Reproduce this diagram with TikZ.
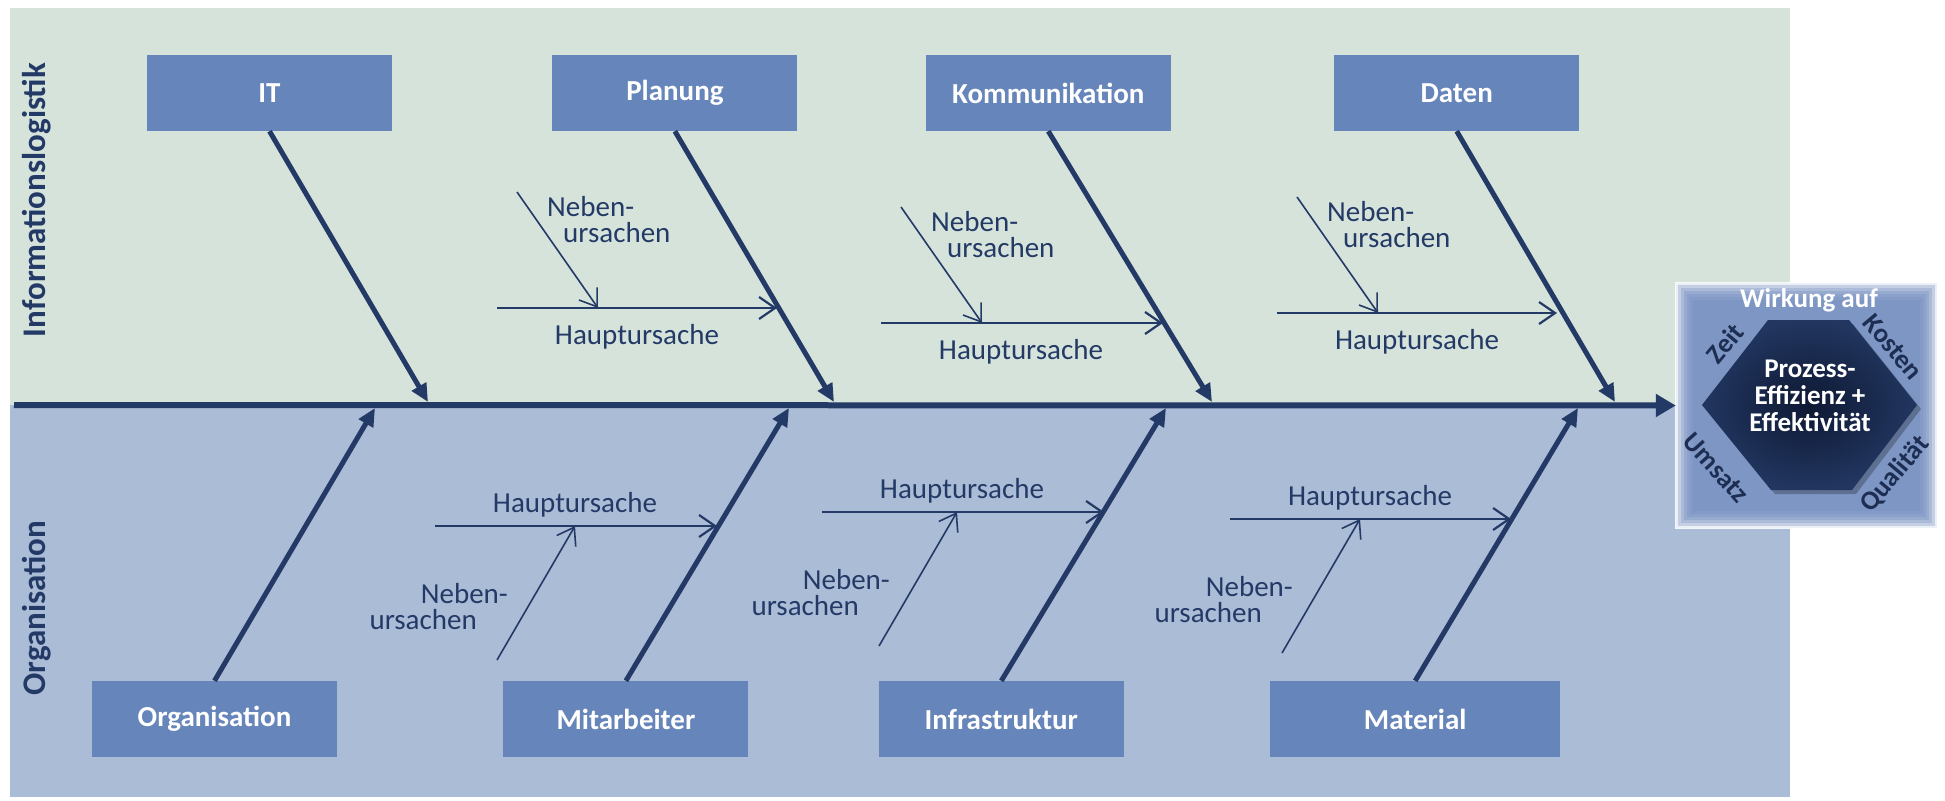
\documentclass[tikz,border=0pt]{standalone}
\usepackage{fontspec}
\setmainfont{Carlito}
\usetikzlibrary{positioning,calc,arrows.meta}

\definecolor{topbg}{HTML}{D5E3DA}
\definecolor{botbg}{HTML}{ABBCD7}
\definecolor{boxfill}{HTML}{6685BA}
\definecolor{navy}{HTML}{243A66}
\definecolor{effbg}{HTML}{7E96C4}
\definecolor{hexin}{HTML}{0E1934}
\definecolor{hexout}{HTML}{223660}

\tikzset{
  cat/.style={fill=boxfill, minimum width=245pt, minimum height=76pt, inner sep=0pt,
    text=white, font=\fontsize{29}{30}\selectfont\bfseries},
  bone/.style={navy, line width=5pt, -{Triangle[length=18pt,width=16pt]}},
  spine/.style={navy, line width=6pt, -{Triangle[length=20pt,width=22pt]}},
  haupt/.style={navy, line width=2.2pt, -{Straight Barb[length=16pt,width=22pt]}},
  neben/.style={navy, line width=1.6pt, -{Straight Barb[length=16pt,width=22pt]}},
  lbl/.style={text=navy, inner sep=0pt, font=\fontsize{29}{26}\selectfont},
  side/.style={text=navy, rotate=90, inner sep=0pt, font=\fontsize{33}{33}\selectfont\bfseries},
  effect/.style={fill=effbg, minimum width=261pt, minimum height=245pt, inner sep=0pt},
  ring/.style={text=navy!80!black, inner sep=0pt, font=\fontsize{27}{27}\selectfont\bfseries},
}

\begin{document}
\begin{tikzpicture}[x=1pt,y=-1pt]
    \useasboundingbox (0,0) rectangle (1945,800);
    \fill[topbg] (10,8) rectangle (1790,405);
    \fill[botbg] (10,405) rectangle (1790,797);

    \node[side] (infolog) at (36.5,200) {Informationslogistik};
    \node[side] (orgside) at (36.5,608) {Organisation};

    % Wirkung
    \node[effect] (eff) at (1806.5,405.5) {};
    \foreach \d/\o in {1/0.85,4/0.55,7/0.35,10/0.2,13/0.1,16/0.05}
        \draw[white, opacity=\o, line width=3pt] ($(eff.south west)+(\d,-\d)$) rectangle ($(eff.north east)+(-\d,\d)$);
    \fill[black, opacity=0.25] (1706,409) -- (1772,324) -- (1853,324) -- (1921,409) -- (1856,494) -- (1775,494) -- cycle;
    \shade[inner color=hexin, outer color=hexout] (1702,405) -- (1768,320) -- (1849,320) -- (1917,405) -- (1852,490) -- (1771,490) -- cycle;
    \node[text=white, align=center, inner sep=0pt, font=\fontsize{27}{27}\selectfont\bfseries] (ziel) at (1810,396) {Prozess-\\Effizienz +\\Effektivität};
    \node[text=white, inner sep=0pt, font=\fontsize{27}{27}\selectfont\bfseries] (wirk) at (1809,300) {Wirkung auf};
    \node[ring, rotate=50] (zeit) at (1725,343) {Zeit};
    \node[ring, rotate=-50] (kosten) at (1893,347) {Kosten};
    \node[ring, rotate=-48] (umsatz) at (1716,468) {Umsatz};
    \node[ring, rotate=50] (qual) at (1895,474) {Qualität};

    % Kategorien
    \node[cat] (it) at (269.5,93) {IT};
    \node[cat, right=160pt of it] (plan) {Planung};
    \node[cat, right=128pt of plan] (komm) {Kommunikation};
    \node[cat, right=163pt of komm] (daten) {Daten};
    \node[cat] (org) at (214.5,719) {Organisation};
    \node[cat, right=166pt of org] (mit) {Mitarbeiter};
    \node[cat, right=130pt of mit] (infra) {Infrastruktur};
    \node[cat, right=146pt of infra, minimum width=290pt] (mat) {Material};

    \coordinate (spstart) at (14,405);
    \coordinate (itend) at (428,402);
    \coordinate (planend) at (834,402);
    \coordinate (kommend) at (1212,402);
    \coordinate (datend) at (1615,402);
    \coordinate (orgend) at (375,408);
    \coordinate (mitend) at (789,408);
    \coordinate (infend) at (1166,408);
    \coordinate (matend) at (1578,408);

    \draw[spine] (spstart) -- (eff.west);
    \path
        (it.south) edge[bone] (itend)
        (plan.south) edge[bone] (planend)
        (komm.south) edge[bone] (kommend)
        (daten.south) edge[bone] (datend);
    \path
        (org.north) edge[bone] (orgend)
        (mit.north) edge[bone] (mitend)
        (infra.north) edge[bone] (infend)
        (mat.north) edge[bone] (matend);

    % Haupt- und Nebenursachen oben
    \foreach \n/\hx/\hy/\ex in {pl/497/308/777, ko/881/323/1163, da/1277/313/1557} {
        \coordinate (\n h1) at (\hx,\hy);
        \coordinate (\n h2) at (\ex,\hy);
        \coordinate (\n n1) at (\hx+20,\hy-116);
        \coordinate (\n n2) at (\hx+101,\hy);
        \draw[haupt] (\n h1) -- (\n h2);
        \draw[neben] (\n n1) -- (\n n2);
        \node[lbl] (\n haupt) at (\hx+140,\hy+29) {Hauptursache};
        \node[lbl, anchor=west, align=left] (\n neben) at (\hx+50,\hy-88) {Neben-\\\hspace*{16pt}ursachen};
    }

    % Haupt- und Nebenursachen unten
    \foreach \n/\hx/\hy/\ex/\nx in {mi/435/526/717/497, in/822/512/1104/879, ma/1230/519/1511/1282} {
        \coordinate (\n h1) at (\hx,\hy);
        \coordinate (\n h2) at (\ex,\hy);
        \coordinate (\n n1) at (\nx,\hy+134);
        \coordinate (\n n2) at (\nx+78,\hy);
        \draw[haupt] (\n h1) -- (\n h2);
        \draw[neben] (\n n1) -- (\n n2);
        \node[lbl] (\n haupt) at (\hx+140,\hy-21) {Hauptursache};
        \node[lbl, anchor=east, align=right] (\n neben) at (\nx+11,\hy+81) {Neben-\\ursachen\hspace*{31pt}};
    }
\end{tikzpicture}
\end{document}
